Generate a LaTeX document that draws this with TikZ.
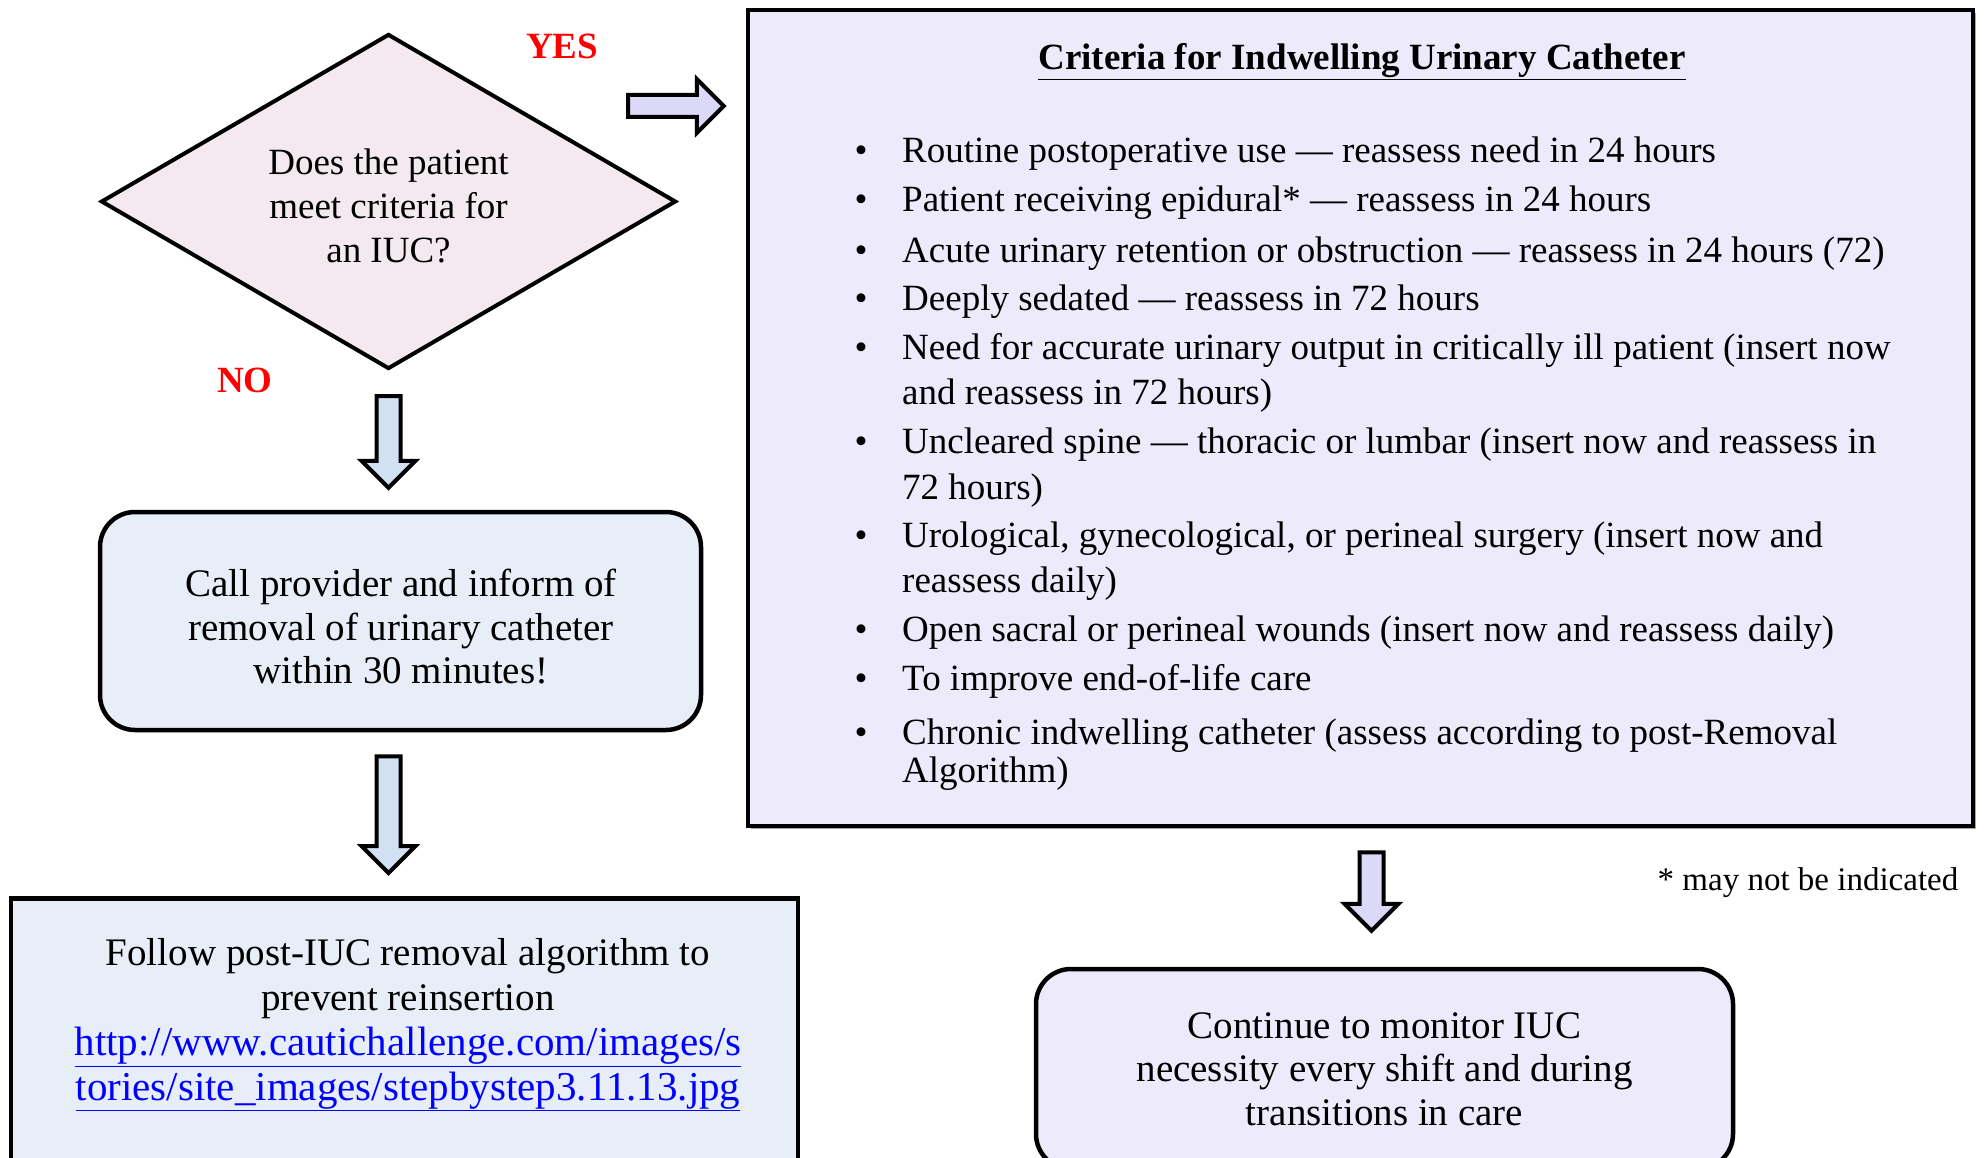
\documentclass[tikz,border=0pt]{standalone}
\usepackage{fontspec}
\setmainfont{Liberation Serif}
\usetikzlibrary{shapes.geometric,calc,shadows}

\definecolor{qpink}{HTML}{F3E9EF}
\definecolor{boxblue}{HTML}{E7EEF8}
\definecolor{arrblue}{HTML}{D1E1F3}
\definecolor{critlav}{HTML}{EDEAFB}
\definecolor{arrlav}{HTML}{DCD8F8}

% block arrows: #1 start, #2 tip, #3 fill
\newcommand{\downblock}[3]{%
  \draw[blockarrow, fill=#3] ($(#1)+(-12,0)$) -- ($(#2)+(-12,-27)$) -- ($(#2)+(-27,-27)$) -- (#2)
    -- ($(#2)+(27,-27)$) -- ($(#2)+(12,-27)$) -- ($(#1)+(12,0)$) -- cycle;}
\newcommand{\rightblock}[3]{%
  \draw[blockarrow, fill=#3] ($(#1)+(0,-11)$) -- ($(#2)+(-27,-11)$) -- ($(#2)+(-27,-27)$) -- (#2)
    -- ($(#2)+(-27,27)$) -- ($(#2)+(-27,11)$) -- ($(#1)+(0,11)$) -- cycle;}

\begin{document}
\begin{tikzpicture}[x=1pt,y=-1pt,
  blockarrow/.style={draw=black, line width=4pt, line join=miter},
  qtext/.style={font=\fontsize{37}{44}\selectfont, align=center},
  boxtext/.style={font=\fontsize{39}{43.5}\selectfont, align=center},
  crittext/.style={font=\fontsize{37}{45}\selectfont},
  answer/.style={font=\bfseries\fontsize{37}{40}\selectfont, text=red}]
\useasboundingbox (0,0) rectangle (1988,1158);
\fill[white] (0,0) rectangle (1988,1158);

% decision
\node[diamond, aspect=1.7, draw, line width=4pt, fill=qpink, minimum width=575pt, minimum height=335pt,
  inner sep=0pt] (q) at (388.5,201.5) {};
\node[qtext] (qtxt) at (388.5,206) {Does the patient\\meet criteria for\\an IUC?};
\node[answer] (yes) at (562,46) {YES};
\node[answer] (no) at (245,380) {NO};

% NO branch
\node[rectangle, rounded corners=35pt, draw, line width=4.5pt, fill=boxblue, minimum width=601pt,
  minimum height=218pt] (call) at (400.5,621) {};
\node[boxtext] (calltxt) at (401,627) {Call provider and inform of\\removal of urinary catheter\\within 30 minutes!};
\node[rectangle, draw, line width=4.5pt, fill=boxblue, minimum width=787pt, minimum height=300pt,
  anchor=north] (post) at (404.5,896) {};
\node[boxtext, font=\fontsize{39}{44.8}\selectfont] (posttxt) at (408,1025) {Follow post-IUC removal algorithm to\\prevent reinsertion\\
  \fontsize{41}{44.8}\selectfont\textcolor{blue}{\underline{http://www.cautichallenge.com/images/s}}\\
  \fontsize{41}{44.8}\selectfont\textcolor{blue}{\underline{tories/site\_images/stepbystep3.11.13.jpg}}};

% YES branch
\node[rectangle, draw, line width=4.5pt, fill=critlav, minimum width=1225pt, minimum height=816pt,
  drop shadow={shadow xshift=3pt, shadow yshift=-3pt, fill=black!35, opacity=1}] (crit) at (1360.5,418) {};
\node[crittext, font=\bfseries\fontsize{37}{45}\selectfont] (title) at (1362,62)
  {\underline{Criteria for Indwelling Urinary Catheter}};
\foreach \yy [count=\i] in {163,212,262,310,359,453,547,641,690,744}
  \node[crittext, anchor=base] (dot\i) at (861,\yy) {\textbullet};
\foreach \yy/\txt [count=\i] in {
  163/{Routine postoperative use --- reassess need in 24 hours},
  212/{Patient receiving epidural* --- reassess in 24 hours},
  262/{Acute urinary retention or obstruction --- reassess in 24 hours (72)},
  310/{Deeply sedated --- reassess in 72 hours},
  359/{Need for accurate urinary output in critically ill patient (insert now},
  404/{and reassess in 72 hours)},
  453/{Uncleared spine --- thoracic or lumbar (insert now and reassess in},
  499/{72 hours)},
  547/{Urological, gynecological, or perineal surgery (insert now and},
  592/{reassess daily)},
  641/{Open sacral or perineal wounds (insert now and reassess daily)},
  690/{To improve end-of-life care},
  744/{Chronic indwelling catheter (assess according to post-Removal},
  782/{Algorithm)}}
  \node[crittext, anchor=base west, inner xsep=0pt] (line\i) at (902,\yy) {\txt};
\node[font=\fontsize{33}{38}\selectfont] (note) at (1808,883) {* may not be indicated};
\node[rectangle, rounded corners=35pt, draw, line width=4.5pt, fill=critlav, minimum width=697pt,
  minimum height=200pt, boxtext] (mon) at (1384.5,1069) {Continue to monitor IUC\\necessity every shift and during\\transitions in care};

% connectors
\coordinate (a1s) at ($(q.south)+(0,25)$);
\coordinate (a1e) at ($(a1s |- call.north)+(0,-22)$);
\downblock{a1s}{a1e}{arrblue}
\coordinate (a2s) at ($(q.south |- call.south)+(0,24)$);
\coordinate (a2e) at ($(a2s |- post.north)+(0,-23)$);
\downblock{a2s}{a2e}{arrblue}
\coordinate (a3s) at ($(crit.south)+(11,24)$);
\coordinate (a3e) at ($(a3s |- mon.north)+(0,-36)$);
\downblock{a3s}{a3e}{arrlav}
\coordinate (a4s) at (628,106);
\coordinate (a4e) at ($(crit.west |- a4s)+(-22,0)$);
\rightblock{a4s}{a4e}{arrlav}
\end{tikzpicture}
\end{document}
